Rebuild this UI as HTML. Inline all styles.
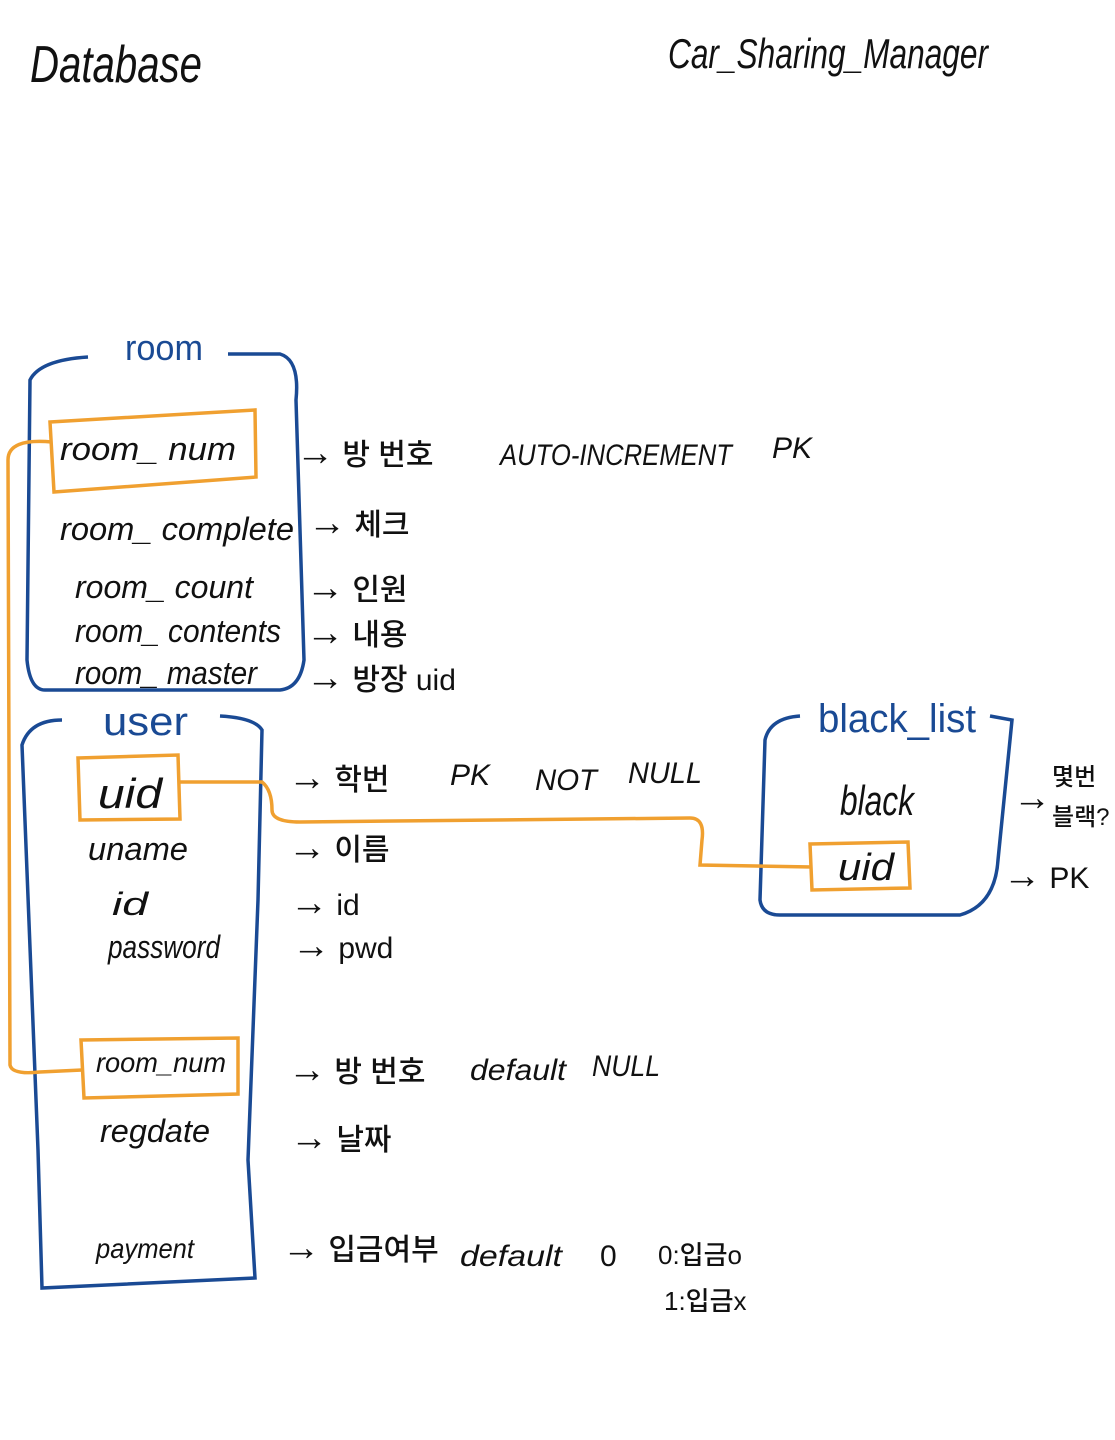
<!DOCTYPE html>
<html><head><meta charset="utf-8">
<style>
html,body{margin:0;padding:0;background:#fff;}
svg{display:block;}
text{font-family:"Liberation Sans","Noto Sans CJK KR",sans-serif;fill:#111;}
.b{fill:#1a4a94;}
.ar{font-size:38px;}
.k{font-weight:500;}
</style></head><body>
<svg width="1115" height="1440" viewBox="0 0 1115 1440" xmlns="http://www.w3.org/2000/svg">
<g font-style="italic">
<text x="30" y="82" font-size="52" textLength="172" lengthAdjust="spacingAndGlyphs">Database</text>
<text x="668" y="68" font-size="42" textLength="320" lengthAdjust="spacingAndGlyphs">Car_Sharing_Manager</text>
</g>
<path d="M88 357 Q40 360 30 380 L27 660 Q30 690 45 690 L280 690 Q300 688 304 660 L296 400 Q300 360 280 354 L228 354" fill="none" stroke="#1a4a94" stroke-width="3.5"/>
<text class="b" x="125" y="360" font-size="36" textLength="78" lengthAdjust="spacingAndGlyphs">room</text>
<path d="M62 720 Q30 720 22 745 L38 1150 L42 1288 L255 1278 L248 1160 L258 900 L262 730 Q255 718 220 716" fill="none" stroke="#1a4a94" stroke-width="3.5"/>
<text class="b" x="103" y="735" font-size="40" textLength="85" lengthAdjust="spacingAndGlyphs">user</text>
<path d="M800 716 Q770 718 765 740 L760 900 Q762 915 780 915 L960 915 Q995 905 998 860 L1012 720 L990 716" fill="none" stroke="#1a4a94" stroke-width="3.5"/>
<text class="b" x="818" y="732" font-size="40" textLength="158" lengthAdjust="spacingAndGlyphs">black_list</text>
<g fill="none" stroke="#f0a030" stroke-width="3.5">
<path d="M50 422 L255 410 L256 477 L54 492 Z"/>
<path d="M78 758 L178 755 L180 819 L80 820 Z"/>
<path d="M81 1040 L238 1038 L238 1094 L84 1098 Z"/>
<path d="M810 844 L908 842 L910 888 L812 890 Z"/>
<path d="M52 442 Q8 438 8 460 L10 1065 Q12 1075 40 1072 L82 1070"/>
<path d="M180 782 L262 782 Q272 790 272 810 Q272 822 300 822 L690 818 Q705 818 702 840 L700 865 L812 867"/>
</g>
<g font-style="italic" font-size="32">
<text x="60" y="460" textLength="176" lengthAdjust="spacingAndGlyphs">room_ num</text>
<text x="60" y="540" textLength="234" lengthAdjust="spacingAndGlyphs">room_ complete</text>
<text x="75" y="598" textLength="178" lengthAdjust="spacingAndGlyphs">room_ count</text>
<text x="75" y="642" textLength="206" lengthAdjust="spacingAndGlyphs">room_ contents</text>
<text x="75" y="684" textLength="182" lengthAdjust="spacingAndGlyphs">room_ master</text>
<text x="98" y="808" font-size="42" textLength="64" lengthAdjust="spacingAndGlyphs">uid</text>
<text x="88" y="860" textLength="100" lengthAdjust="spacingAndGlyphs">uname</text>
<text x="112" y="915" textLength="36" lengthAdjust="spacingAndGlyphs">id</text>
<text x="108" y="958" textLength="112" lengthAdjust="spacingAndGlyphs">password</text>
<text x="96" y="1072" font-size="28" textLength="130" lengthAdjust="spacingAndGlyphs">room_num</text>
<text x="100" y="1142" textLength="110" lengthAdjust="spacingAndGlyphs">regdate</text>
<text x="96" y="1258" font-size="28" textLength="98" lengthAdjust="spacingAndGlyphs">payment</text>
<text x="840" y="815" font-size="42" textLength="74" lengthAdjust="spacingAndGlyphs">black</text>
<text x="838" y="880" font-size="38" textLength="56" lengthAdjust="spacingAndGlyphs">uid</text>
</g>
<g font-size="30" class="k">
<text x="296" y="465"><tspan class="ar">→</tspan> 방 번호</text>
<text x="500" y="465" font-style="italic" font-weight="400" textLength="232" lengthAdjust="spacingAndGlyphs">AUTO-INCREMENT</text>
<text x="772" y="458" font-style="italic" font-weight="400">PK</text>
<text x="308" y="535"><tspan class="ar">→</tspan> 체크</text>
<text x="306" y="600"><tspan class="ar">→</tspan> 인원</text>
<text x="306" y="645"><tspan class="ar">→</tspan> 내용</text>
<text x="306" y="690"><tspan class="ar">→</tspan> 방장 uid</text>
<text x="288" y="790"><tspan class="ar">→</tspan> 학번</text>
<text x="450" y="785" font-style="italic" font-weight="400">PK</text>
<text x="535" y="790" font-style="italic" font-weight="400" textLength="62" lengthAdjust="spacingAndGlyphs">NOT</text>
<text x="628" y="783" font-style="italic" font-weight="400" textLength="74" lengthAdjust="spacingAndGlyphs">NULL</text>
<text x="288" y="860"><tspan class="ar">→</tspan> 이름</text>
<text x="290" y="915"><tspan class="ar">→</tspan> id</text>
<text x="292" y="958"><tspan class="ar">→</tspan> pwd</text>
<text x="288" y="1082"><tspan class="ar">→</tspan> 방 번호</text>
<text x="470" y="1080" font-style="italic" font-weight="400" textLength="96" lengthAdjust="spacingAndGlyphs">default</text>
<text x="592" y="1076" font-style="italic" font-weight="400" textLength="68" lengthAdjust="spacingAndGlyphs">NULL</text>
<text x="290" y="1150"><tspan class="ar">→</tspan> 날짜</text>
<text x="282" y="1260"><tspan class="ar">→</tspan> 입금여부</text>
<text x="460" y="1266" font-style="italic" font-weight="400" textLength="102" lengthAdjust="spacingAndGlyphs">default</text>
<text x="600" y="1266">0</text>
<text x="658" y="1264" font-size="26">0:입금o</text>
<text x="664" y="1310" font-size="26">1:입금x</text>
<text x="1013" y="810" class="ar">→</text>
<text x="1052" y="785" font-size="24">몇번</text>
<text x="1052" y="825" font-size="24">블랙?</text>
<text x="1003" y="888"><tspan class="ar">→</tspan> PK</text>
</g>
</svg>
</body></html>
